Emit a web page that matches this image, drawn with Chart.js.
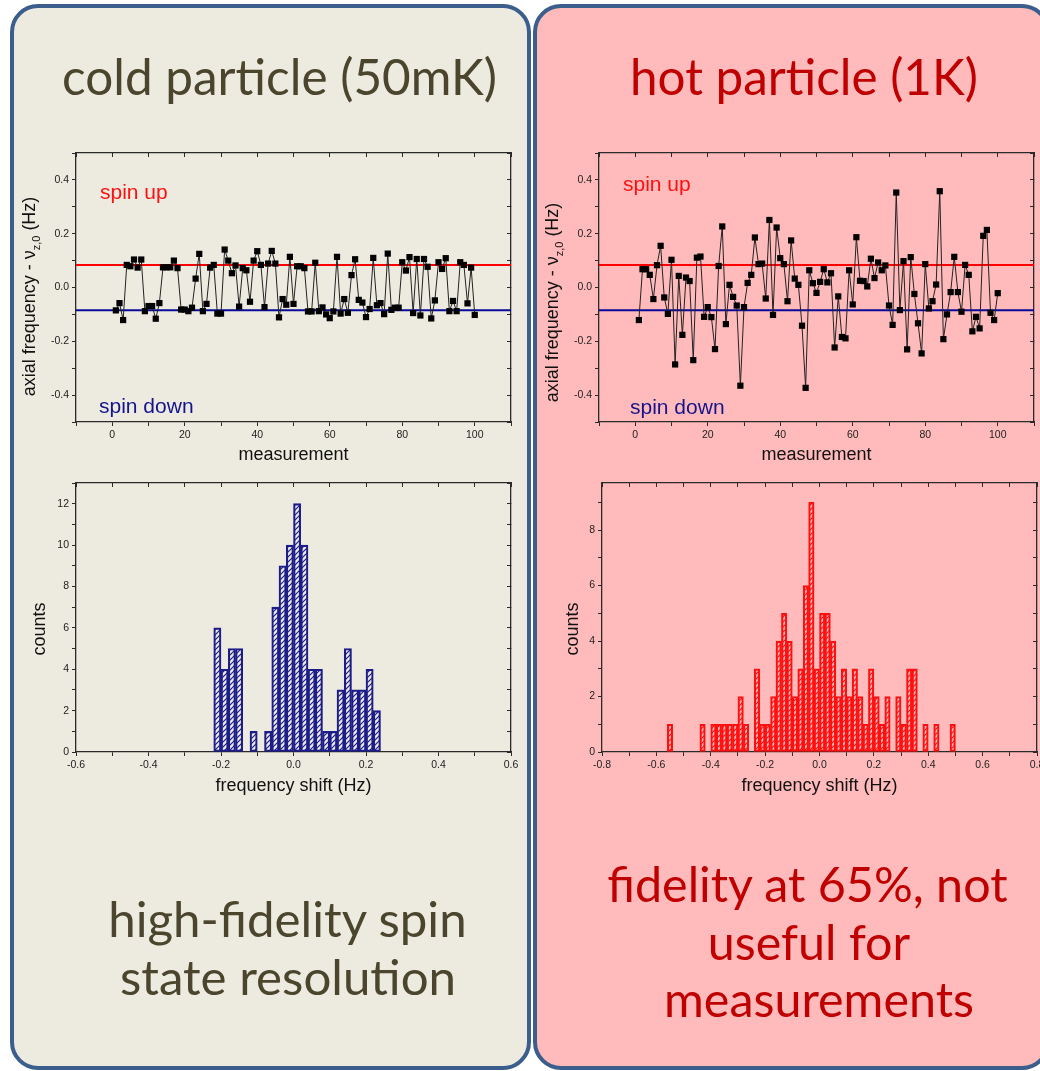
<!DOCTYPE html>
<html><head><meta charset="utf-8">
<script src="https://cdn.jsdelivr.net/npm/chart.js@4.4.1/dist/chart.umd.min.js"></script>
<style>
html,body{margin:0;padding:0;background:#fff;width:1040px;height:1071px;overflow:hidden;position:relative;}
.panel{position:absolute;box-sizing:border-box;border:4px solid #3b5e8c;border-radius:28px;}
#pL{left:10px;top:4px;width:521px;height:1066px;background:#edebe0;}
#pR{left:533px;top:4px;width:517px;height:1066px;background:#ffbbbb;}
canvas{position:absolute;}
</style></head><body>
<div class="panel" id="pL"></div><div class="panel" id="pR"></div>
<canvas id="c1" width="510" height="330" style="left:15px;top:145px"></canvas>
<canvas id="c2" width="500" height="330" style="left:540px;top:145px"></canvas>
<canvas id="c3" width="510" height="335" style="left:15px;top:475px"></canvas>
<canvas id="c4" width="500" height="335" style="left:540px;top:475px"></canvas>
<script>
// ---------------- DATA ----------------
const measurement = Array.from({length: 100}, (_, i) => i + 1);
const coldShift = [
 -0.085,-0.058,-0.121,0.084,0.079,0.104,0.074,0.104,-0.088,-0.069,
 -0.069,-0.116,-0.058,0.075,0.075,0.075,0.100,0.072,-0.082,-0.082,
 -0.088,-0.075,0.033,0.125,-0.088,-0.061,0.074,0.084,-0.097,-0.097,
 0.141,0.100,0.053,0.082,-0.071,0.072,0.064,-0.053,0.100,0.135,
 0.084,-0.073,0.089,0.136,0.089,-0.111,-0.043,-0.064,0.114,-0.061,
 0.079,0.079,0.072,-0.089,-0.089,0.092,-0.088,-0.074,-0.100,-0.114,
 -0.089,0.114,-0.097,-0.043,-0.094,0.046,0.105,-0.046,-0.056,-0.110,
 -0.080,0.110,-0.066,-0.058,-0.099,0.126,-0.083,-0.075,-0.075,0.094,
 0.063,0.113,-0.095,0.106,-0.104,0.106,0.077,-0.115,-0.048,0.094,
 0.069,0.109,-0.088,-0.050,-0.088,0.094,0.084,-0.059,0.074,-0.102];
const hotShift = [
 -0.121,0.068,0.068,0.047,-0.043,0.083,0.155,-0.037,-0.098,0.103,
 -0.286,0.043,-0.176,0.037,0.024,-0.270,0.111,0.115,-0.109,-0.073,
 -0.110,-0.229,0.080,0.227,-0.136,0.010,-0.035,-0.067,-0.365,-0.073,
 0.017,0.047,0.186,0.087,0.089,-0.041,0.251,-0.102,0.223,0.109,
 0.087,-0.051,0.175,0.033,0.010,-0.142,-0.373,0.064,0.016,-0.020,
 0.021,0.068,0.019,0.053,-0.223,-0.033,-0.184,-0.189,0.064,-0.063,
 0.187,0.025,0.024,0.004,0.107,0.035,0.093,0.064,0.082,-0.067,
 -0.139,0.353,-0.084,0.098,-0.230,0.113,-0.024,-0.133,-0.245,0.087,
 -0.078,-0.051,0.011,0.358,-0.192,-0.100,-0.017,0.114,-0.017,-0.090,
 0.084,0.047,-0.163,-0.109,-0.152,0.192,0.214,-0.094,-0.121,-0.021];
const spinUpLevel = 0.084;
const spinDownLevel = -0.085;

const coldBinCenters = [-0.21,-0.19,-0.17,-0.15,-0.13,-0.11,-0.09,-0.07,-0.05,-0.03,-0.01,
  0.01,0.03,0.05,0.07,0.09,0.11,0.13,0.15,0.17,0.19,0.21,0.23];
const coldCounts = [6,4,5,5,0,1,0,1,7,9,10,12,10,4,4,1,1,3,5,3,3,4,2];

const hotBinCenters = [-0.55,-0.53,-0.51,-0.49,-0.47,-0.45,-0.43,-0.41,-0.39,-0.37,
  -0.35,-0.33,-0.31,-0.29,-0.27,-0.25,-0.23,-0.21,-0.19,-0.17,
  -0.15,-0.13,-0.11,-0.09,-0.07,-0.05,-0.03,-0.01,0.01,0.03,
  0.05,0.07,0.09,0.11,0.13,0.15,0.17,0.19,0.21,0.23,
  0.25,0.27,0.29,0.31,0.33,0.35,0.37,0.39,0.41,0.43,
  0.45,0.47,0.49];
const hotCounts = [1,0,0,0,0,0,1,0,1,1,
  1,1,1,2,1,0,3,1,1,2,
  4,5,4,2,3,6,9,3,5,5,
  4,2,3,2,3,2,1,3,2,1,
  2,0,2,1,3,3,0,1,0,1,
  0,0,1];

const measurementTickLabels = [0,20,40,60,80,100];
const shiftTickLabels = [-0.4,-0.2,0,0.2,0.4];
const coldHistTickLabels = [-0.6,-0.4,-0.2,0,0.2,0.4,0.6];
const hotHistTickLabels = [-0.8,-0.6,-0.4,-0.2,0,0.2,0.4,0.6,0.8];
const coldCountTickLabels = [0,2,4,6,8,10,12];
const hotCountTickLabels = [0,2,4,6,8];

// ---------------- HELPERS ----------------
const FONT = '"Liberation Sans", Arial, sans-serif';
const AX = '#2a2a2a';
function has(list, v){ return list.some(t => Math.abs(t - v) < 1e-6); }
function fmtInt(list){ return v => has(list, v) ? String(Math.round(v)) : ''; }
function fmt1(list){ return v => has(list, v) ? (Math.round(v*10)/10).toFixed(1) : ''; }
function fix(size){
  return s => {
    if (s.isHorizontal()) s.height = size; else s.width = size;
    s.paddingLeft = 0; s.paddingRight = 0; s.paddingTop = 0; s.paddingBottom = 0;
  };
}
function axis(pos, min, max, step, cb, size, extra){
  const o = {
    position: pos, min, max,
    border: {display: true, color: AX, width: 1.3},
    grid: {drawOnChartArea: false, drawTicks: true, tickLength: cb ? 4 : -4, color: AX, tickColor: AX, tickWidth: 1, offset: false},
    ticks: {stepSize: step, autoSkip: false, maxRotation: 0, includeBounds: false,
            display: !!cb, callback: cb || (() => ''), color: '#222', padding: 3,
            font: {family: FONT, size: 10.5}},
    afterFit: fix(size), offset: false, type: 'linear'
  };
  return Object.assign(o, extra || {});
}
function xTitle(text, padBottom){
  return {display: true, text, color: '#111', font: {family: FONT, size: 18}, padding: {top: 0, bottom: padBottom}};
}
function hatch(color, size, lw){
  const c = document.createElement('canvas'); c.width = c.height = size;
  const g = c.getContext('2d');
  g.strokeStyle = color; g.lineWidth = lw;
  g.beginPath();
  g.moveTo(-1, size + 1); g.lineTo(size + 1, -1);
  g.moveTo(-size/2 - 1, size/2 + 1); g.lineTo(size/2 + 1, -size/2 - 1);
  g.moveTo(size/2 - 1, size*1.5 + 1); g.lineTo(size*1.5 + 1, size/2 - 1);
  g.stroke();
  return g.createPattern(c, 'repeat');
}

// rotated y-title (with subscript support), config kept in a closure
function yTitle(dx, dy, parts){
  return {
    id: 'ytitle',
    afterDraw(chart){
      const ctx = chart.ctx, ca = chart.chartArea;
      ctx.save();
      let total = 0;
      const ws = parts.map(p => { ctx.font = p.size + 'px ' + FONT; const w = ctx.measureText(p.t).width; total += w; return w; });
      ctx.translate(ca.left - dx, (ca.top + ca.bottom)/2 + dy);
      ctx.rotate(-Math.PI/2);
      ctx.fillStyle = '#111'; ctx.textBaseline = 'alphabetic'; ctx.textAlign = 'left';
      let x = -total/2;
      parts.forEach((p, i) => { ctx.font = p.size + 'px ' + FONT; ctx.fillText(p.t, x, p.shift ? p.shift : 0); x += ws[i]; });
      ctx.restore();
    }
  };
}
function plotLabels(items){
  return {
    id: 'plotlabels',
    afterDatasetsDraw(chart){
      const ctx = chart.ctx, ca = chart.chartArea;
      ctx.save();
      ctx.textBaseline = 'middle'; ctx.textAlign = 'left';
      items.forEach(it => {
        ctx.font = it.size + 'px ' + FONT; ctx.fillStyle = it.color;
        ctx.fillText(it.text, ca.left + it.dx, ca.top + it.dy);
      });
      ctx.restore();
    }
  };
}

function timeChart(id, values, leftW, rightW, labels, yt){
  return new Chart(document.getElementById(id), {
    type: 'line',
    data: {datasets: [
      {data: measurement.map((m, i) => ({x: m, y: values[i]})), borderColor: '#222', borderWidth: 1,
       pointStyle: 'rect', pointRadius: 4.4, pointBackgroundColor: '#000', pointBorderColor: '#000', pointBorderWidth: 0,
       tension: 0, order: 0},
      {data: [{x: -10, y: spinUpLevel}, {x: 110, y: spinUpLevel}], borderColor: '#ff0000', borderWidth: 2, pointRadius: 0, order: 1},
      {data: [{x: -10, y: spinDownLevel}, {x: 110, y: spinDownLevel}], borderColor: '#0a0a9a', borderWidth: 2, pointRadius: 0, order: 1}
    ]},
    options: {
      responsive: false, animation: false, events: [],
      layout: {padding: 0},
      plugins: {legend: {display: false}, tooltip: {enabled: false}},
      scales: {
        x: axis('bottom', -10, 110, 10, fmtInt(measurementTickLabels), 53, {title: xTitle('measurement', 9.2)}),
        x2: axis('top', -10, 110, 10, null, 8),
        y: axis('left', -0.5, 0.5, 0.1, fmt1(shiftTickLabels), leftW),
        y2: axis('right', -0.5, 0.5, 0.1, null, rightW)
      }
    },
    plugins: [yTitle(41, yt, [{t: 'axial frequency - \u03bd', size: 18}, {t: 'z,0', size: 11, shift: 5}, {t: ' (Hz)', size: 18}]),
              plotLabels(labels)]
  });
}

function histChart(id, centers, counts, color, xmin, xmax, xLabels, ymax, yLabels, leftW, rightW, ytdx, ytdy){
  return new Chart(document.getElementById(id), {
    type: 'bar',
    data: {datasets: [{
      data: centers.map((c, i) => ({x: c, y: counts[i] || null})),
      backgroundColor: hatch(color, 5, 1.2), borderColor: color, borderWidth: 1.5, borderSkipped: false,
      barPercentage: 1, categoryPercentage: 1
    }]},
    options: {
      responsive: false, animation: false, events: [],
      layout: {padding: 0},
      plugins: {legend: {display: false}, tooltip: {enabled: false}},
      scales: {
        x: axis('bottom', xmin, xmax, 0.1, fmt1(xLabels), 58, {title: xTitle('frequency shift (Hz)', 13.2)}),
        x2: axis('top', xmin, xmax, 0.1, null, 8),
        y: axis('left', 0, ymax, 1, fmtInt(yLabels), leftW),
        y2: axis('right', 0, ymax, 1, null, rightW)
      }
    },
    plugins: [yTitle(ytdx, ytdy, [{t: 'counts', size: 18}])]
  });
}

timeChart('c1', coldShift, 61, 14, [
  {text: 'spin up', color: '#ff1010', size: 21, dx: 24, dy: 40},
  {text: 'spin down', color: '#14148c', size: 21, dx: 23, dy: 254}], 9);
timeChart('c2', hotShift, 59, 6, [
  {text: 'spin up', color: '#ff1010', size: 21, dx: 24, dy: 32},
  {text: 'spin down', color: '#14148c', size: 21, dx: 31, dy: 255}], 15);
histChart('c3', coldBinCenters, coldCounts, '#1c1c8a', -0.6, 0.6, coldHistTickLabels, 13, coldCountTickLabels, 61, 14, 31, 11.5);
histChart('c4', hotBinCenters, hotCounts, '#ff1010', -0.8, 0.8, hotHistTickLabels, 9.7, hotCountTickLabels, 62, 3, 24, 11.5);

// ---------------- PANEL TEXTS ----------------
const TFONT = 'Lato, "Open Sans", sans-serif';
const meas = document.createElement('canvas').getContext('2d');
function placeGroup(lines, color){
  meas.font = '100px ' + TFONT;
  let tw = 0, mw = 0;
  lines.forEach(l => { tw += l.w; mw += meas.measureText(l.t).width; });
  const size = 100 * tw / mw;
  meas.font = size + 'px ' + TFONT;
  lines.forEach(l => {
    const m = meas.measureText(l.t);
    const A = m.fontBoundingBoxAscent, D = m.fontBoundingBoxDescent;
    const el = document.createElement('div');
    el.textContent = l.t;
    el.style.cssText = 'position:absolute;white-space:nowrap;color:' + color + ';font-family:' + TFONT +
      ';font-size:' + size + 'px;line-height:' + size + 'px;';
    el.style.left = (l.cx - m.width/2) + 'px';
    el.style.top = (l.base - ((size - (A + D))/2 + A)) + 'px';
    document.body.appendChild(el);
  });
}
placeGroup([{t: 'cold particle (50mK)', cx: 279.5, w: 435, base: 96}], '#4a452c');
placeGroup([{t: 'hot particle (1K)', cx: 804, w: 348, base: 96}], '#c00000');
placeGroup([{t: 'high-fidelity spin', cx: 288, w: 360, base: 937},
            {t: 'state resolution', cx: 288, w: 336, base: 995}], '#4a452c');
placeGroup([{t: 'fidelity at 65%, not', cx: 808, w: 408, base: 902},
            {t: 'useful for', cx: 809, w: 204, base: 960},
            {t: 'measurements', cx: 819, w: 302, base: 1017}], '#c00000');
</script>
</body></html>
